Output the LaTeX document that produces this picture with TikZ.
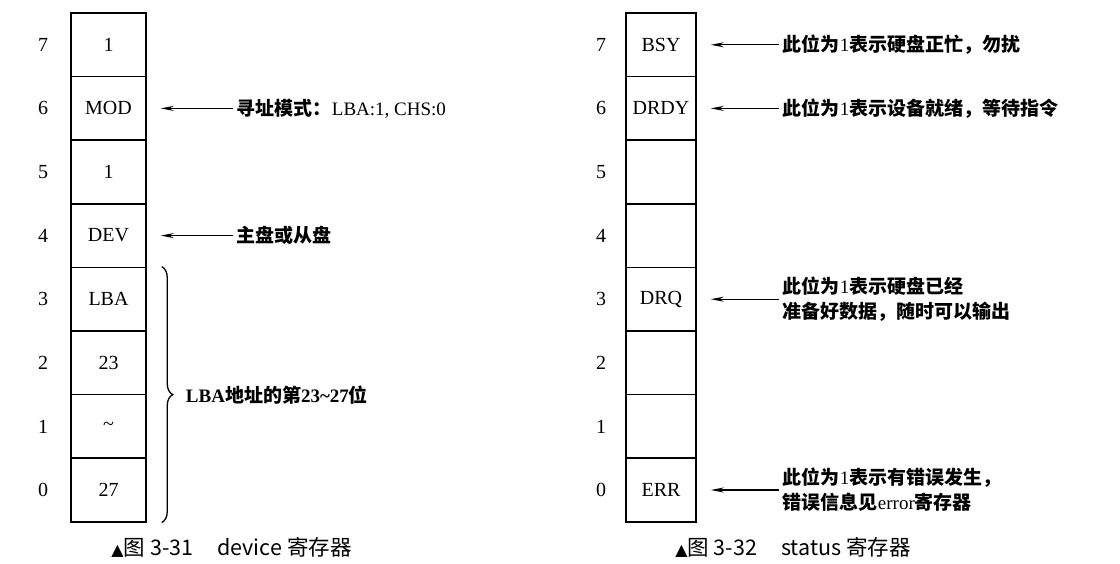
\documentclass[tikz,border=0pt]{standalone}
\usepackage{fontspec}
\setmainfont{Liberation Serif}
\newfontfamily\cjk{Noto Sans CJK SC}
\newfontfamily\symfont{DejaVu Sans}
\newcommand{\zhb}[1]{{\cjk\bfseries #1}}
\usetikzlibrary{arrows.meta,decorations.pathreplacing}
\begin{document}
\begin{tikzpicture}[x=1pt,y=-1pt,
  cell/.style={draw,line width=1.5pt,minimum height=63.6pt,inner sep=0pt,font=\fontsize{20}{24}\selectfont},
  lcell/.style={cell,minimum width=75pt},
  rcell/.style={cell,minimum width=70pt},
  bitnum/.style={inner sep=0pt,font=\fontsize{20}{24}\selectfont},
  lbl/.style={inner xsep=4pt,inner ysep=0pt,anchor=west,align=left,font=\fontsize{19}{25}\selectfont},
  ptr/.style={line width=1.2pt,-{Stealth[length=13pt,width=5pt]},shorten >=14pt},
  bracestyle/.style={line width=1.3pt,decorate,decoration={brace,amplitude=11pt}},
  captext/.style={inner sep=0pt,font=\cjk\fontsize{21.5}{24}\selectfont}
]
\useasboundingbox (0,0) rectangle (1120,564);

% left register
\foreach \b/\t in {7/1,6/MOD,5/1,4/DEV,3/LBA,2/23,1/{\textasciitilde},0/27} {
  \node[lcell] (L\b) at (108.5,{13+(7.5-\b)*63.6}) {\t};
  \node[bitnum] (nL\b) at (43,{13+(7.5-\b)*63.6}) {\b};
}
\node[lbl] (a6) at ([xshift=86pt]L6.east) {\zhb{寻址模式：}LBA:1, CHS:0};
\node[lbl] (a4) at ([xshift=86pt]L4.east) {\zhb{主盘或从盘}};
\draw[ptr] (a6.west) -- (L6.east);
\draw[ptr] (a4.west) -- (L4.east);

\coordinate (bt) at ([xshift=15pt]L3.north east);
\coordinate (bb) at ([xshift=15pt]L0.south east);
\draw[bracestyle] (bt) -- (bb);
\path (bt) -- (bb) coordinate[pos=0.5] (bm);
\node[lbl] (bl) at ([xshift=20pt]bm) {\textbf{LBA}\zhb{地址的第}\textbf{23\textasciitilde27}\zhb{位}};

\node[captext] (cap1) at (231.5,547) {{\symfont\fontsize{16}{18}\selectfont ▲}图 3-31\hspace{24pt}device 寄存器};

% right register
\foreach \b/\t in {7/BSY,6/DRDY,5/{},4/{},3/DRQ,2/{},1/{},0/ERR} {
  \node[rcell] (R\b) at (661,{13+(7.5-\b)*63.6}) {\t};
  \node[bitnum] (nR\b) at (601,{13+(7.5-\b)*63.6}) {\b};
}
\node[lbl] (s7) at ([xshift=82pt]R7.east) {\zhb{此位为}1\zhb{表示硬盘正忙，勿扰}};
\node[lbl] (s6) at ([xshift=82pt]R6.east) {\zhb{此位为}1\zhb{表示设备就绪，等待指令}};
\node[lbl] (s3) at ([xshift=82pt]R3.east) {\zhb{此位为}1\zhb{表示硬盘已经}\\\zhb{准备好数据，随时可以输出}};
\node[lbl] (s0) at ([xshift=82pt]R0.east) {\zhb{此位为}1\zhb{表示有错误发生，}\\\zhb{错误信息见}error\zhb{寄存器}};
\draw[ptr] (s7.west) -- (R7.east);
\draw[ptr] (s6.west) -- (R6.east);
\draw[ptr] (s3.west) -- (R3.east);
\draw[ptr] (s0.west) -- (R0.east);

\node[captext] (cap2) at (793,547) {{\symfont\fontsize{16}{18}\selectfont ▲}图 3-32\hspace{24pt}status 寄存器};
\end{tikzpicture}
\end{document}
